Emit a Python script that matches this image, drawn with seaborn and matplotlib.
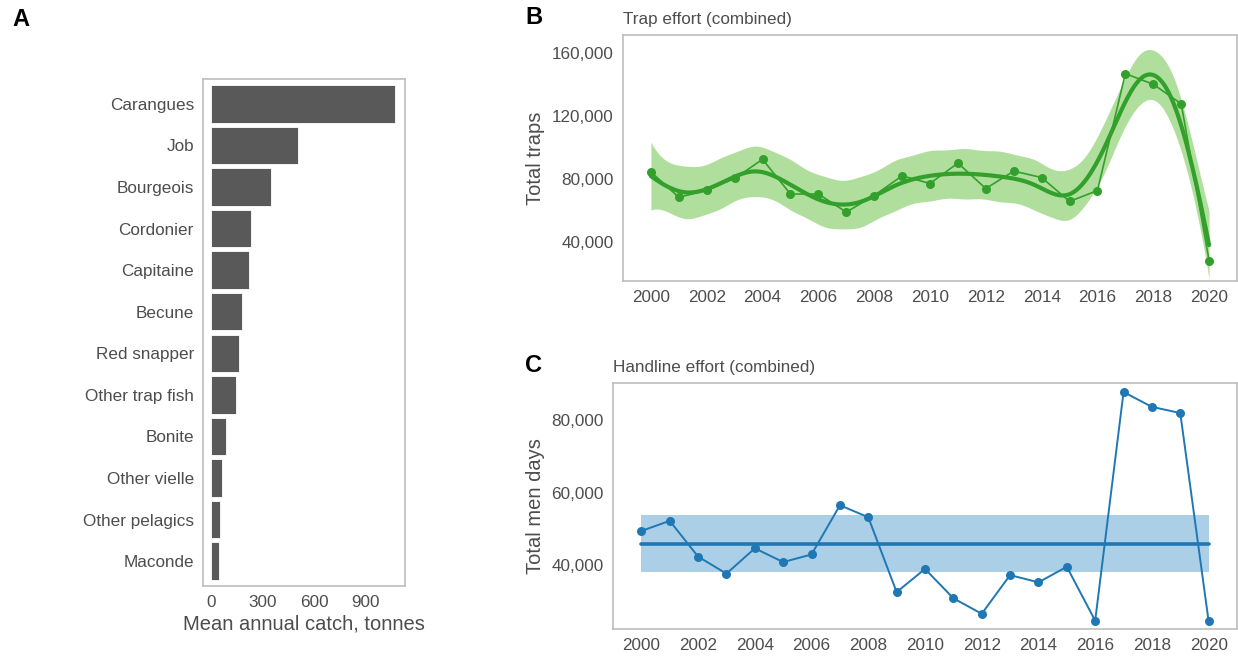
import numpy as np
import pandas as pd
import matplotlib
matplotlib.use("Agg")
import matplotlib.pyplot as plt
import seaborn as sns
from matplotlib.ticker import FuncFormatter, FixedLocator

# ---- data -------------------------------------------------------------
species = ["Carangues", "Job", "Bourgeois", "Cordonier", "Capitaine", "Becune",
           "Red snapper", "Other trap fish", "Bonite", "Other vielle",
           "Other pelagics", "Maconde"]
mean_catch = [1068, 507, 350, 234, 224, 180, 163, 144, 86, 63, 54, 48]

years = list(range(2000, 2021))
trap_effort = [84500, 68300, 72800, 80300, 92500, 70400, 70400, 58900, 69400,
               82000, 77100, 90100, 73900, 85000, 80900, 65700, 72600, 147100,
               140300, 127900, 28000]
handline_effort = [49400, 52200, 42300, 37600, 44600, 40800, 42900, 56500,
                   53200, 32500, 38900, 30800, 26500, 37200, 35200, 39500,
                   24600, 87800, 83700, 82000, 24400]

year_ticks = list(range(2000, 2021, 2))
catch_ticks = [0, 300, 600, 900]
trap_ticks = [40000, 80000, 120000, 160000]
handline_ticks = [40000, 60000, 80000]

# ---- style ------------------------------------------------------------
sns.set_theme(style="white")
plt.rcParams["font.family"] = ["Liberation Sans", "DejaVu Sans"]
TXT = "#4d4d4d"
FRAME = "#bdbdbd"
GREEN, GREEN_LIGHT = "#33a02c", "#a3d98c"
BLUE, BLUE_LIGHT = "#1f78b4", "#a6cde6"

W, H = 1238, 657
fig = plt.figure(figsize=(W / 100, H / 100), dpi=100)
fig.patch.set_facecolor("white")


def add_panel(left, top, right, bottom):
    return fig.add_axes([left / W, 1 - bottom / H, (right - left) / W, (bottom - top) / H])


def style_axes(ax):
    for s in ax.spines.values():
        s.set_color(FRAME)
        s.set_linewidth(1.2)
        s.set_visible(True)
    ax.tick_params(axis="both", which="major", direction="out", length=3.5,
                   width=0.9, color=FRAME, labelcolor=TXT, labelsize=12.3, pad=3)
    ax.grid(False)
    ax.set_facecolor("white")


thousands = FuncFormatter(lambda v, p: f"{int(round(v)):,}")


def pspline_smooth(x, y, x_new, n_seg=16, degree=3, lam=1.0, z=1.96):
    """Penalised B-spline smoother with pointwise confidence band."""
    x = np.asarray(x, float)
    y = np.asarray(y, float)
    lo, hi = x.min(), x.max()
    dx = (hi - lo) / n_seg
    knots = lo + dx * np.arange(-degree, n_seg + degree + 1)

    def basis(v):
        v = np.clip(np.asarray(v, float), lo, hi - 1e-9)
        B = ((v[:, None] >= knots[None, :-1]) & (v[:, None] < knots[None, 1:])).astype(float)
        for d in range(1, degree + 1):
            nb = len(knots) - 1 - d
            Bn = np.zeros((len(v), nb))
            for i in range(nb):
                a = (v - knots[i]) / (knots[i + d] - knots[i]) * B[:, i]
                b = (knots[i + d + 1] - v) / (knots[i + d + 1] - knots[i + 1]) * B[:, i + 1]
                Bn[:, i] = a + b
            B = Bn
        return B

    B = basis(x)
    nb = B.shape[1]
    D = np.diff(np.eye(nb), n=2, axis=0)
    Ainv = np.linalg.inv(B.T @ B + lam * D.T @ D)
    coef = Ainv @ B.T @ y
    edf = np.trace(B @ Ainv @ B.T)
    resid = y - B @ coef
    sigma2 = resid @ resid / (len(y) - edf)
    Bg = basis(x_new)
    fit = Bg @ coef
    se = np.sqrt(np.einsum("ij,jk,ik->i", Bg, Ainv * sigma2, Bg))
    return fit, fit - z * se, fit + z * se


# ---- A: mean annual catch by species -----------------------------------
catch_df = pd.DataFrame({"species": species, "catch": mean_catch})
axA = add_panel(203, 79, 405, 586)
sns.barplot(data=catch_df, x="catch", y="species", orient="h", order=species,
            color="#595959", saturation=1, width=0.9, edgecolor="white",
            linewidth=0.6, ax=axA)
axA.set_xlim(-45, 1128)
axA.set_ylim(len(species) - 0.4, -0.6)
axA.xaxis.set_major_locator(FixedLocator(catch_ticks))
style_axes(axA)
axA.set_ylabel("")
axA.set_xlabel("Mean annual catch, tonnes", fontsize=14.5, color=TXT, labelpad=3)

# ---- B: trap effort ------------------------------------------------------
trap_df = pd.DataFrame({"year": years, "effort": trap_effort})
grid = np.linspace(years[0], years[-1], 400)
fit, lo_b, hi_b = pspline_smooth(trap_df["year"], trap_df["effort"], grid, lam=0.07)
smooth_df = pd.DataFrame({"year": grid, "effort": fit})

axB = add_panel(623, 35, 1237, 281)
axB.fill_between(grid, lo_b, hi_b, color=GREEN_LIGHT, alpha=0.85, linewidth=0, zorder=1)
sns.lineplot(data=trap_df, x="year", y="effort", color=GREEN, linewidth=1.2,
             marker="o", markersize=6.5, markeredgewidth=0, ax=axB, zorder=3)
sns.lineplot(data=smooth_df, x="year", y="effort", color=GREEN, linewidth=3.0,
             ax=axB, zorder=4)
axB.set_xlim(1999, 2021)
axB.set_ylim(15000, 171700)
axB.xaxis.set_major_locator(FixedLocator(year_ticks))
axB.yaxis.set_major_locator(FixedLocator(trap_ticks))
axB.yaxis.set_major_formatter(thousands)
style_axes(axB)
axB.set_xlabel("")
axB.set_ylabel("Total traps", fontsize=14.5, color=TXT, labelpad=5)
axB.set_title("Trap effort (combined)", loc="left", fontsize=12.3, color=TXT, pad=8)

# ---- C: handline effort --------------------------------------------------
hand_df = pd.DataFrame({"year": years, "effort": handline_effort})
vals = hand_df["effort"].to_numpy(float)
mean_h = vals.mean()
half = 1.96 * vals.std(ddof=1) / np.sqrt(len(vals))
level_df = pd.DataFrame({"year": [years[0], years[-1]], "effort": [mean_h, mean_h]})

axC = add_panel(613, 383, 1237, 629)
axC.fill_between([years[0], years[-1]], mean_h - half, mean_h + half,
                 color=BLUE_LIGHT, alpha=0.95, linewidth=0, zorder=1)
sns.lineplot(data=level_df, x="year", y="effort", color=BLUE, linewidth=2.6,
             ax=axC, zorder=2)
sns.lineplot(data=hand_df, x="year", y="effort", color=BLUE, linewidth=1.4,
             marker="o", markersize=6.5, markeredgewidth=0, ax=axC, zorder=3)
axC.set_xlim(1999, 2021)
axC.set_ylim(22300, 90300)
axC.xaxis.set_major_locator(FixedLocator(year_ticks))
axC.yaxis.set_major_locator(FixedLocator(handline_ticks))
axC.yaxis.set_major_formatter(thousands)
style_axes(axC)
axC.set_xlabel("")
axC.set_ylabel("Total men days", fontsize=14.5, color=TXT, labelpad=5)
axC.set_title("Handline effort (combined)", loc="left", fontsize=12.3, color=TXT, pad=8)

# ---- panel letters ---------------------------------------------------------
for letter, (px, py) in {"A": (21, 20), "B": (534, 17), "C": (533, 366)}.items():
    fig.text(px / W, 1 - py / H, letter, fontsize=17, fontweight="bold",
             color="black", ha="center", va="center")

fig.savefig("out.png", dpi=100, facecolor="white")
